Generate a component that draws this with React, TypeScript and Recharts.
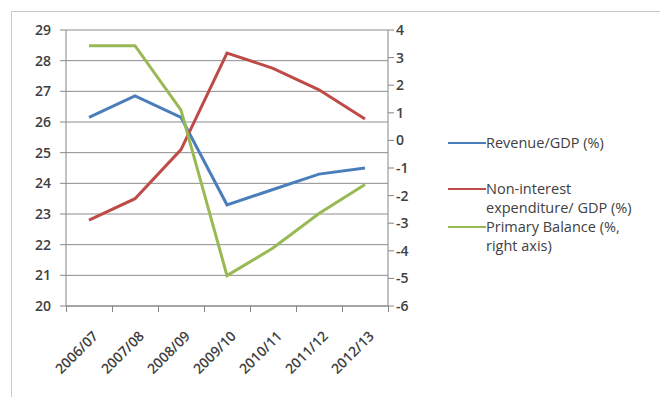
import { ComposedChart, Line, XAxis, YAxis, CartesianGrid } from "recharts";

const categories = ["2006/07", "2007/08", "2008/09", "2009/10", "2010/11", "2011/12", "2012/13"];
const revenue = [26.15, 26.85, 26.15, 23.3, 23.8, 24.3, 24.5];
const expenditure = [22.8, 23.5, 25.1, 28.25, 27.75, 27.05, 26.1];
const primaryBalance = [3.43, 3.43, 1.1, -4.9, -3.9, -2.65, -1.6];

const leftTicks = [20, 21, 22, 23, 24, 25, 26, 27, 28, 29];
const rightTicks = [-6, -5, -4, -3, -2, -1, 0, 1, 2, 3, 4];

const BLUE = "#4a7ebb";
const RED = "#be4b48";
const GREEN = "#98b954";
const AXIS = "#868686";
const TEXT = "#404040";
const FONT = "'Open Sans', sans-serif";

const W = 660;
const H = 397;
const MARGIN = { top: 30, right: 238, bottom: 21, left: 10 };
const LEFT_W = 56;
const RIGHT_W = 34;
const PLOT_W = W - MARGIN.left - MARGIN.right - LEFT_W - RIGHT_W;
const BAND = PLOT_W / categories.length;

const data = categories.map((name, i) => ({
  name,
  revenue: revenue[i],
  expenditure: expenditure[i],
  balance: primaryBalance[i],
}));

// category labels sit rotated under the band centre; tick marks go on the band edges
function CategoryTick(props: any) {
  const { x, y, payload, index } = props;
  const edge = (px: number) => Math.round(px) + 0.5;
  const ax = x + 10;
  const ay = y + 31;
  return (
    <g>
      <path d={`M${edge(x - BAND / 2)},${y}v6`} stroke={AXIS} strokeWidth={1} fill="none" />
      {index === categories.length - 1 && (
        <path d={`M${edge(x + BAND / 2)},${y}v6`} stroke={AXIS} strokeWidth={1} fill="none" />
      )}
      <text
        x={ax}
        y={ay}
        transform={`rotate(-45, ${ax}, ${ay})`}
        textAnchor="end"
        fontSize={14}
        fontWeight={600}
        fontFamily={FONT}
        fill={TEXT}
      >
        {payload.value}
      </text>
    </g>
  );
}

const legendItems = [
  { color: BLUE, lines: ["Revenue/GDP (%)"], top: 133 },
  { color: RED, lines: ["Non-interest", "expenditure/ GDP (%)"], top: 179 },
  { color: GREEN, lines: ["Primary Balance (%,", "right axis)"], top: 217 },
];

export default function App() {
  const tickStyle = { fontSize: 14, fontWeight: 600, fontFamily: FONT, fill: TEXT };
  return (
    <div style={{ position: "absolute", left: 0, top: 0, width: W, height: H, overflow: "hidden", background: "#fff" }}>
      <div
        style={{
          position: "absolute",
          left: 11,
          top: 11,
          width: W,
          height: H,
          border: "1px solid #c8c8c8",
        }}
      />
      <ComposedChart width={W} height={H} data={data} margin={MARGIN} style={{ position: "absolute", left: 0, top: 0 }}>
        <CartesianGrid yAxisId="left" vertical={false} stroke="#8c8c8c" />
        <XAxis
          dataKey="name"
          scale="band"
          interval={0}
          height={70}
          stroke={AXIS}
          tickSize={0}
          tickMargin={0}
          tickLine={false}
          tick={<CategoryTick />}
        />
        <YAxis
          yAxisId="left"
          orientation="left"
          domain={[20, 29]}
          ticks={leftTicks}
          width={LEFT_W}
          stroke={AXIS}
          tickSize={6}
          tickMargin={9}
          tick={tickStyle}
          interval={0}
        />
        <YAxis
          yAxisId="right"
          orientation="right"
          domain={[-6, 4]}
          ticks={rightTicks}
          width={RIGHT_W}
          stroke={AXIS}
          tickSize={6}
          tickMargin={2}
          tick={{ ...tickStyle, textAnchor: "start" }}
          interval={0}
        />
        <Line yAxisId="left" type="linear" dataKey="revenue" stroke={BLUE} strokeWidth={3} dot={false} isAnimationActive={false} />
        <Line yAxisId="left" type="linear" dataKey="expenditure" stroke={RED} strokeWidth={3} dot={false} isAnimationActive={false} />
        <Line yAxisId="right" type="linear" dataKey="balance" stroke={GREEN} strokeWidth={3} dot={false} isAnimationActive={false} />
      </ComposedChart>
      {legendItems.map((item) => (
        <div
          key={item.lines[0]}
          style={{
            position: "absolute",
            left: 448,
            top: item.top,
            display: "flex",
            alignItems: "flex-start",
            fontFamily: FONT,
            fontSize: 14.5,
            color: TEXT,
            lineHeight: "19px",
          }}
        >
          <div style={{ width: 38, height: 2, background: item.color, marginTop: 9 }} />
          <div>
            {item.lines.map((l) => (
              <div key={l}>{l}</div>
            ))}
          </div>
        </div>
      ))}
    </div>
  );
}
